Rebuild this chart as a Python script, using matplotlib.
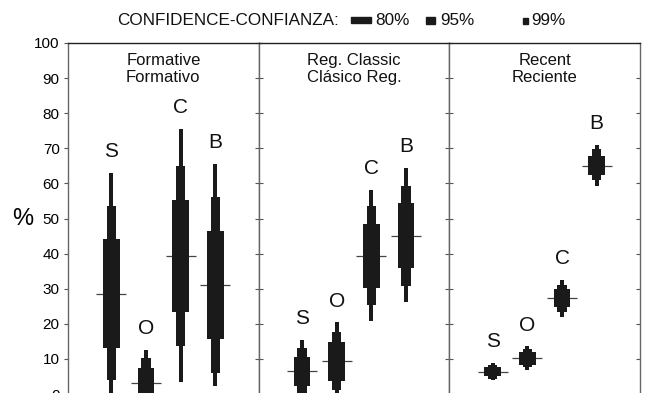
import matplotlib
matplotlib.use("Agg")
import matplotlib.pyplot as plt
from matplotlib.patches import Rectangle

plt.rcParams['font.family'] = ['Liberation Sans', 'DejaVu Sans']

# ---- data ----
periods = ["Formative\nFormativo", "Reg. Classic\nClásico Reg.", "Recent\nReciente"]
categories = ["S", "O", "C", "B"]
yticks = [0, 10, 20, 30, 40, 50, 60, 70, 80, 90, 100]

# Formative
f_med  = [28.6, 3.2, 39.2, 31.0]
f_lo80 = [13.1, -1.0, 23.3, 15.7]
f_hi80 = [44.2, 7.4, 55.4, 46.5]
f_lo95 = [3.9, -3.8, 13.6, 6.1]
f_hi95 = [53.5, 10.2, 65.0, 56.0]
f_lo99 = [-5.8, -6.3, 3.5, 2.2]
f_hi99 = [63.0, 12.7, 75.5, 65.6]

# Regional Classic
r_med  = [6.5, 9.3, 39.4, 45.1]
r_lo80 = [2.2, 3.8, 30.2, 35.9]
r_hi80 = [10.7, 14.7, 48.5, 54.4]
r_lo95 = [-0.1, 1.1, 25.3, 30.7]
r_hi95 = [13.1, 17.7, 53.5, 59.4]
r_lo99 = [-2.3, -1.8, 20.7, 26.1]
r_hi99 = [15.4, 20.4, 58.2, 64.4]

# Recent
c_med  = [6.4, 10.2, 27.3, 65.1]
c_lo80 = [5.1, 8.4, 24.7, 62.3]
c_hi80 = [7.7, 12.0, 29.9, 67.9]
c_lo95 = [4.4, 7.6, 23.4, 60.9]
c_hi95 = [8.4, 12.8, 31.2, 69.8]
c_lo99 = [3.9, 6.9, 22.0, 59.4]
c_hi99 = [8.9, 13.6, 32.6, 71.0]

panels = [
    (f_med, f_lo80, f_hi80, f_lo95, f_hi95, f_lo99, f_hi99),
    (r_med, r_lo80, r_hi80, r_lo95, r_hi95, r_lo99, r_hi99),
    (c_med, c_lo80, c_hi80, c_lo95, c_hi95, c_lo99, c_hi99),
]

# ---- figure ----
W, H = 646, 393
fig = plt.figure(figsize=(W / 100, H / 100), dpi=100)

left_px, right_px = 68, 640
top_px = 43
px_per_unit = 3.511
ymin, ymax = -8, 100
ax_h_px = (ymax - ymin) * px_per_unit
bottom_px = top_px + ax_h_px
pw = (right_px - left_px) / 3

bar_color = "#1a1a1a"
xs = [1, 2, 3, 4]

for i, (title, data) in enumerate(zip(periods, panels)):
    med, lo80, hi80, lo95, hi95, lo99, hi99 = data
    ax = fig.add_axes([(left_px + i * pw) / W, (H - bottom_px) / H,
                       pw / W, ax_h_px / H])
    ax.set_xlim(-0.25, 5.25)
    ax.set_ylim(ymin, ymax)

    ax.hlines(med, [x - 0.43 for x in xs], [x + 0.43 for x in xs],
              colors="#444444", linewidth=0.9, zorder=1)
    ax.bar(xs, [h - l for h, l in zip(hi99, lo99)], bottom=lo99,
           width=0.12, color=bar_color, zorder=2)
    ax.bar(xs, [h - l for h, l in zip(hi95, lo95)], bottom=lo95,
           width=0.26, color=bar_color, zorder=3)
    ax.bar(xs, [h - l for h, l in zip(hi80, lo80)], bottom=lo80,
           width=0.48, color=bar_color, zorder=4)

    for x, h, lab in zip(xs, hi99, categories):
        ax.text(x, h + 6, lab, ha="center", va="center", fontsize=15,
                color="#111111")

    ax.text(0.5, 0.932, title, transform=ax.transAxes, ha="center",
            va="center", fontsize=12, linespacing=1.12, color="#111111")

    ax.set_xticks([])
    ax.set_yticks(yticks)
    for s in ["left", "right"]:
        ax.spines[s].set_color("#666666")
        ax.spines[s].set_linewidth(1.0)
    ax.spines["top"].set_color("#222222")
    ax.spines["top"].set_linewidth(1.0)
    ax.spines["bottom"].set_visible(False)

    if i == 0:
        ax.tick_params(axis="y", which="both", left=True, right=True,
                       direction="out", length=3, width=0.8, color="#555555",
                       labelsize=11, pad=3)
        for t in ax.yaxis.get_major_ticks():
            t.tick2line.set_marker(matplotlib.lines.TICKLEFT)
        ax.set_ylabel("%", rotation=0, fontsize=17, va="center")
        ax.yaxis.set_label_coords(-0.24, (50 - ymin) / (ymax - ymin))
    else:
        ax.tick_params(axis="y", which="both", left=True, right=True,
                       direction="in", length=3, width=0.8, color="#555555",
                       labelleft=False)

# ---- legend ----
ty = 1 - 20.5 / H
fig.text(117 / W, ty, "CONFIDENCE-CONFIANZA:", ha="left", va="center",
         fontsize=12.3, color="#111111")
for (x0, w, y0, h, lab, tx) in [
    (351, 20, 17.3, 6.0, "80%", 375),
    (426, 9, 16.7, 7.3, "95%", 440),
    (523, 5, 18.3, 5.7, "99%", 531),
]:
    fig.patches.append(Rectangle((x0 / W, 1 - (y0 + h) / H), w / W, h / H,
                                 transform=fig.transFigure, color=bar_color))
    fig.text(tx / W, ty, lab, ha="left", va="center", fontsize=12.3,
             color="#111111")

fig.savefig("out.png", dpi=100)
